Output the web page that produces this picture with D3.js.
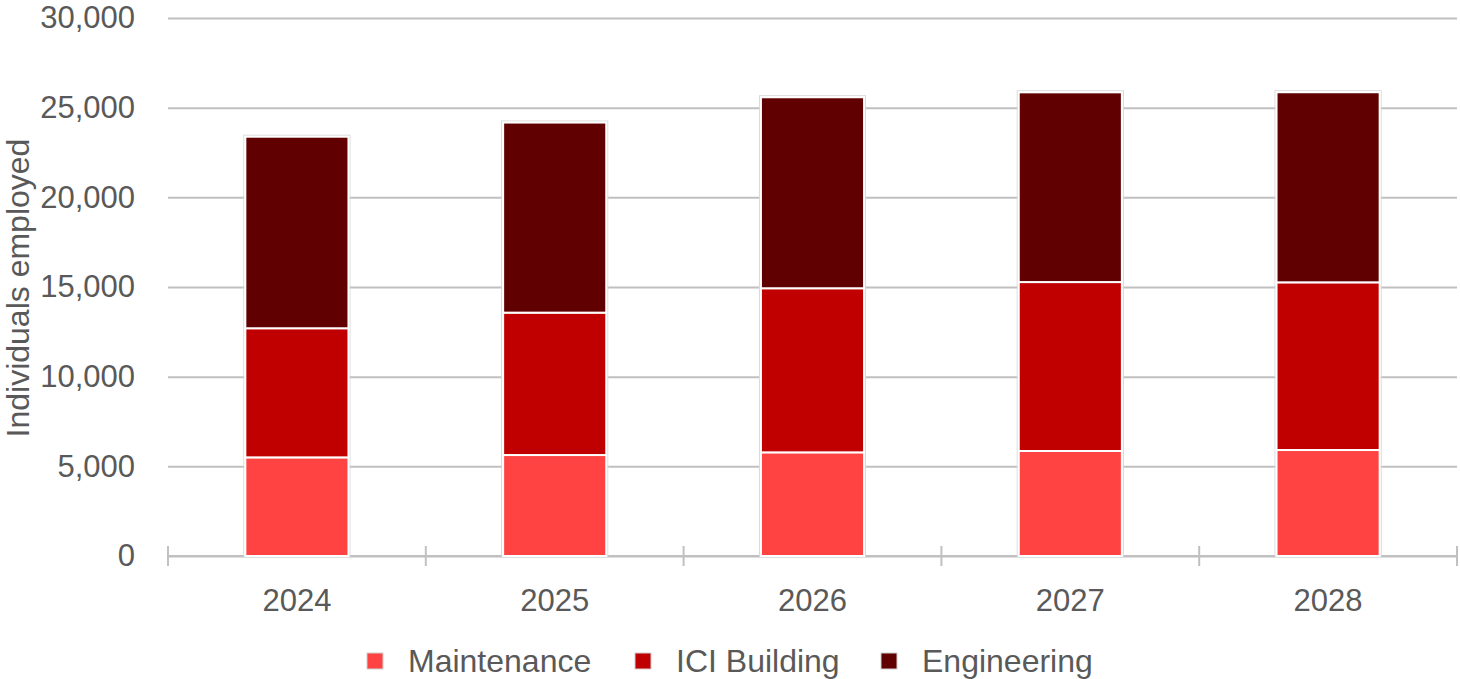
<!DOCTYPE html>
<html>
<head>
<meta charset="utf-8">
<script src="https://cdn.jsdelivr.net/npm/d3@7"></script>
<style>
  html, body { margin: 0; padding: 0; background: #fff; }
  svg { display: block; font-family: "Liberation Sans", Arial, sans-serif; }
</style>
</head>
<body>
<svg id="chart" width="1460" height="679"></svg>
<script>
// Employment by sector, 2024–2028
const years = ["2024", "2025", "2026", "2027", "2028"];
const seriesNames = ["Maintenance", "ICI Building", "Engineering"];
const maintenance = [5500, 5630, 5780, 5855, 5910];
const iciBuilding = [7200, 7940, 9150, 9420, 9350];
const engineering = [10680, 10600, 10650, 10580, 10600];
const yTicks = [0, 5000, 10000, 15000, 20000, 25000, 30000];
const colors = ["#ff4343", "#c00000", "#600000"];

const rows = years.map((y, i) => ({
  year: y,
  "Maintenance": maintenance[i],
  "ICI Building": iciBuilding[i],
  "Engineering": engineering[i]
}));

const svg = d3.select("#chart");
const plotLeft = 168, plotRight = 1457, plotTop = 18, plotBottom = 556;

const x = d3.scaleBand().domain(years).range([plotLeft, plotRight])
  .paddingInner(0.6).paddingOuter(0.3);
const y = d3.scaleLinear().domain([0, 30000]).range([plotBottom, plotTop]);
const color = d3.scaleOrdinal().domain(seriesNames).range(colors);

const textColor = "#595959";
const gridColor = "#c0c0c0";

// Horizontal gridlines and value labels
const yAxis = d3.axisLeft(y).tickValues(yTicks)
  .tickFormat(d3.format(",")).tickSize(-(plotRight - plotLeft)).tickPadding(33);
const gy = svg.append("g").attr("transform", `translate(${plotLeft},0)`).call(yAxis);
gy.select(".domain").remove();
gy.selectAll(".tick line").attr("stroke", gridColor).attr("stroke-width", 2);
gy.selectAll(".tick text").attr("fill", textColor).attr("font-size", 31)
  .attr("font-family", "'Liberation Sans', Arial, sans-serif");

// Category axis with boundary ticks
const boundaries = years.map(d => x(d) - x.step() * x.paddingInner() / 2);
boundaries[0] = plotLeft;
boundaries.push(plotRight);
const gx = svg.append("g");
gx.append("line").attr("x1", plotLeft).attr("x2", plotRight)
  .attr("y1", y(0)).attr("y2", y(0))
  .attr("stroke", gridColor).attr("stroke-width", 2);
gx.selectAll("line.bt").data(boundaries).join("line").attr("class", "bt")
  .attr("x1", d => d).attr("x2", d => d)
  .attr("y1", y(0) - 10).attr("y2", y(0) + 10)
  .attr("stroke", gridColor).attr("stroke-width", 2);
gx.selectAll("text").data(years).join("text")
  .attr("x", d => x(d) + x.bandwidth() / 2)
  .attr("y", y(0) + 55)
  .attr("text-anchor", "middle")
  .attr("fill", textColor).attr("font-size", 31)
  .text(d => d);

// Stacked bars
const stacked = d3.stack().keys(seriesNames)(rows);

// light outline around each whole column
svg.append("g").selectAll("rect").data(rows).join("rect")
  .attr("x", d => x(d.year) - 1.5)
  .attr("width", x.bandwidth() + 3)
  .attr("y", d => y(d3.sum(seriesNames, k => d[k])) - 1.5)
  .attr("height", d => y(0) - y(d3.sum(seriesNames, k => d[k])) + 1.5)
  .attr("fill", "none").attr("stroke", "#d6d6d6").attr("stroke-width", 1);

svg.append("g").selectAll("g").data(stacked).join("g")
  .attr("fill", d => color(d.key))
  .selectAll("rect").data(d => d.map(v => ({ v, year: v.data.year }))).join("rect")
  .attr("x", d => x(d.year))
  .attr("width", x.bandwidth())
  .attr("y", d => y(d.v[1]))
  .attr("height", d => y(d.v[0]) - y(d.v[1]))
  .attr("stroke", "#fff").attr("stroke-width", 2);

// Axis title
svg.append("text")
  .attr("transform", `translate(29, 288) rotate(-90)`)
  .attr("text-anchor", "middle")
  .attr("fill", textColor).attr("font-size", 32)
  .text("Individuals employed");

// Legend
const legendX = [367, 635, 881];
const lg = svg.append("g").selectAll("g").data(seriesNames).join("g")
  .attr("transform", (d, i) => `translate(${legendX[i]}, 661)`);
lg.append("rect").attr("x", 0).attr("y", -8).attr("width", 16).attr("height", 16)
  .attr("fill", d => color(d)).attr("stroke", "#d0d0d0").attr("stroke-width", 1);
lg.append("text").attr("x", 41).attr("y", 11)
  .attr("fill", textColor).attr("font-size", 32)
  .text(d => d);
</script>
</body>
</html>
